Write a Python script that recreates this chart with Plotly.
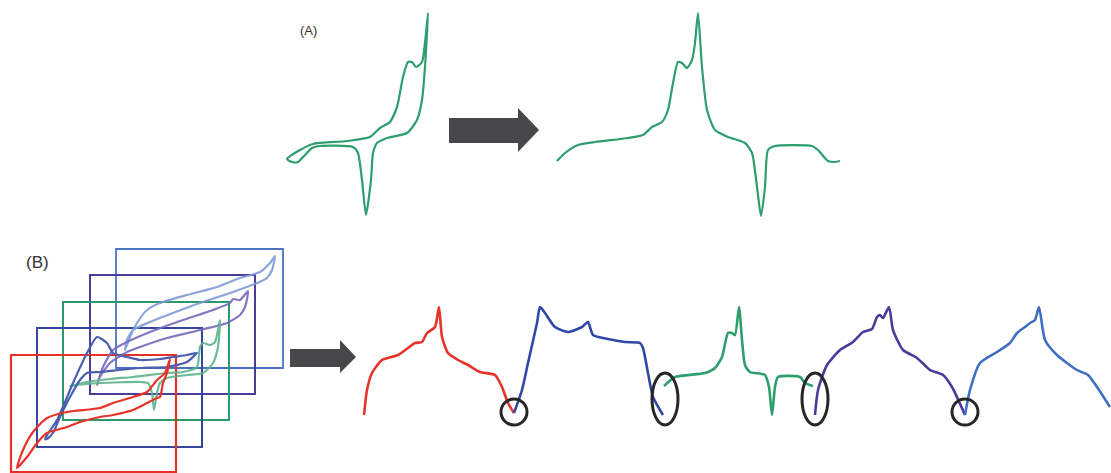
import plotly.graph_objects as go

W, H = 1111, 473

# ---------------- Panel A : cyclic voltammogram (loop) ----------------
a_cv_x = [287, 300, 313, 347, 370, 380, 390, 397, 403, 408, 412, 416, 422, 425, 428,
          425, 422, 417, 407, 387, 377, 373, 371, 366, 362, 358, 353, 320, 312, 305, 298, 292, 287]
a_cv_y = [159, 150, 144, 141, 137, 128, 122, 107, 77, 62, 62, 67, 62, 43, 13,
          67, 100, 120, 133, 138, 143, 153, 180, 215, 180, 153, 147, 146, 148, 155, 162, 162, 159]

# Panel A : unfolded trace
a_un_x = [557, 565, 578, 595, 628, 643, 652, 662, 668, 673, 678, 682, 687, 692, 695, 698,
          702, 707, 715, 728, 745, 752, 757, 761, 765, 768, 775, 812, 818, 828, 834, 840]
a_un_y = [161, 153, 145, 142, 138, 135, 127, 122, 110, 83, 62, 63, 68, 60, 43, 13,
          67, 110, 130, 137, 143, 153, 187, 216, 187, 150, 146, 146, 150, 161, 162, 161]

# ---------------- Panel B : stacked CVs ----------------
b_red_x = [17, 23, 33, 47, 67, 100, 113, 133, 147, 157, 165, 170,
           167, 163, 160, 157, 147, 133, 113, 100, 80, 67, 47, 37, 27, 17]
b_red_y = [468, 450, 432, 418, 412, 408, 403, 397, 392, 380, 373, 359,
           373, 383, 397, 398, 403, 410, 415, 417, 422, 427, 433, 443, 457, 468]

b_blue_x = [45, 57, 73, 87, 97, 107, 113, 127, 140, 160, 173, 187, 197,
            195, 187, 167, 140, 100, 87, 80, 70, 60, 53, 47, 45]
b_blue_y = [439, 420, 383, 353, 337, 343, 353, 357, 360, 359, 357, 355, 353,
            355, 362, 367, 368, 372, 373, 380, 397, 417, 433, 439, 439]

b_green_x = [70, 87, 110, 133, 167, 183, 197, 200, 203, 210, 215, 220,
             218, 213, 203, 187, 167, 160, 157, 154, 152, 148, 140, 100, 77, 70]
b_green_y = [386, 382, 379, 377, 373, 372, 367, 347, 343, 345, 342, 320,
             347, 363, 373, 375, 378, 383, 393, 410, 393, 383, 382, 383, 385, 386]

b_purple_x = [97, 103, 113, 127, 150, 183, 213, 230, 233, 240, 248,
              245, 240, 227, 200, 167, 140, 127, 110, 100, 97]
b_purple_y = [385, 367, 350, 342, 332, 320, 310, 303, 299, 300, 291,
              307, 315, 323, 330, 338, 347, 352, 363, 377, 385]

b_lblue_x = [125, 130, 137, 147, 160, 187, 217, 240, 260, 270, 275,
             272, 267, 257, 233, 200, 173, 150, 133, 127, 125]
b_lblue_y = [350, 337, 323, 310, 303, 295, 287, 278, 272, 263, 256,
             270, 278, 283, 292, 303, 313, 322, 330, 340, 350]

# Panel B : unfolded segments
u_red_x = [364, 367, 372, 382, 398, 408, 415, 422, 427, 435, 439, 442, 448, 458, 468, 480, 495, 502, 508, 514]
u_red_y = [415, 390, 373, 360, 355, 348, 343, 342, 333, 327, 307, 337, 353, 360, 365, 372, 375, 387, 403, 413]

u_blue_x = [514, 522, 528, 537, 540, 545, 555, 568, 582, 588, 593, 608, 625, 640, 643, 648, 653, 663]
u_blue_y = [413, 390, 363, 323, 307, 313, 327, 332, 327, 322, 335, 339, 342, 343, 348, 373, 397, 415]

u_green_x = [664, 675, 705, 715, 722, 728, 732, 735, 739, 742, 745, 750, 765, 769, 772, 775, 778, 800, 805, 813]
u_green_y = [386, 377, 373, 368, 357, 333, 333, 335, 307, 340, 365, 372, 375, 387, 415, 387, 377, 377, 383, 386]

u_purple_x = [815, 818, 827, 840, 853, 863, 872, 877, 880, 883, 889, 893, 903, 917, 930, 943, 952, 965]
u_purple_y = [415, 390, 365, 350, 342, 332, 329, 317, 315, 318, 307, 330, 350, 358, 370, 375, 387, 415]

u_lblue_x = [965, 970, 980, 997, 1010, 1017, 1025, 1030, 1035, 1039, 1045, 1057, 1077, 1088, 1097, 1110]
u_lblue_y = [415, 390, 363, 352, 343, 333, 327, 323, 320, 307, 340, 355, 370, 375, 387, 407]

# Frames of the stacked CVs (left, top, right, bottom), back to front
frame_l = [116, 90, 63, 37, 11]
frame_t = [249, 275, 302, 328, 355]
frame_r = [283, 255, 229, 202, 176]
frame_b = [368, 394, 420, 447, 472]
frame_c = ["#4a73c2", "#4a3c99", "#2a9a6a", "#3347a0", "#e8302a"]
frame_w = [1.8, 2.0, 2.0, 2.0, 2.2]

# Highlight circles (cx, cy, rx, ry)
circ_cx = [514, 665, 815, 965]
circ_cy = [412, 399, 399, 412]
circ_rx = [13, 13, 13, 13]
circ_ry = [13, 26, 26, 13]

# Arrows (polygons)
arrA_x = [449, 518, 518, 539, 518, 518, 449, 449]
arrA_y = [118, 118, 108, 130, 152, 143, 143, 118]
arrB_x = [290, 340, 340, 356, 340, 340, 290, 290]
arrB_y = [349, 349, 340, 357, 373, 367, 367, 349]

GREEN = "#2e9e6e"
RED = "#e8332b"
BLUE = "#2f48a6"
PURPLE = "#4b3a9c"
LBLUE = "#3f6ec2"
ARROW = "#48484b"

fig = go.Figure()

def line(x, y, color, width=2.2, opacity=1.0):
    fig.add_trace(go.Scatter(x=x, y=y, mode="lines", opacity=opacity,
                             line=dict(color=color, width=width, shape="spline", smoothing=0.6),
                             hoverinfo="skip", showlegend=False))

# Frames
for l, t, r, b, c, w in zip(frame_l, frame_t, frame_r, frame_b, frame_c, frame_w):
    fig.add_shape(type="rect", x0=l, x1=r, y0=t, y1=b, line=dict(color=c, width=w),
                  fillcolor="rgba(0,0,0,0)", layer="below")

# Panel A
line(a_cv_x, a_cv_y, GREEN, 2.2)
line(a_un_x, a_un_y, GREEN, 2.2)

# Panel B stacked CVs
line(b_lblue_x, b_lblue_y, "#7f9bd6", 2.2, 0.9)
line(b_purple_x, b_purple_y, "#7a69bd", 2.2, 0.9)
line(b_green_x, b_green_y, "#5cb48c", 2.2, 0.9)
line(b_blue_x, b_blue_y, "#4a5fb0", 2.2)
line(b_red_x, b_red_y, RED, 2.2)

# Panel B unfolded
line(u_red_x, u_red_y, RED, 2.6)
line(u_blue_x, u_blue_y, BLUE, 2.6)
line(u_green_x, u_green_y, GREEN, 2.6)
line(u_purple_x, u_purple_y, PURPLE, 2.6)
line(u_lblue_x, u_lblue_y, LBLUE, 2.6)

# Arrows
for ax_, ay_ in ((arrA_x, arrA_y), (arrB_x, arrB_y)):
    fig.add_trace(go.Scatter(x=ax_, y=ay_, mode="lines", fill="toself", fillcolor=ARROW,
                             line=dict(color=ARROW, width=0), hoverinfo="skip", showlegend=False))

# Circles
for cx, cy, rx, ry in zip(circ_cx, circ_cy, circ_rx, circ_ry):
    fig.add_shape(type="circle", x0=cx - rx, x1=cx + rx, y0=cy - ry, y1=cy + ry,
                  line=dict(color="#262626", width=3))

# Labels
fig.add_annotation(x=308, y=30, text="(A)", showarrow=False,
                   font=dict(family="Liberation Sans, Arial, sans-serif", size=13, color="#333333"))
fig.add_annotation(x=37, y=262, text="(B)", showarrow=False,
                   font=dict(family="Liberation Sans, Arial, sans-serif", size=17, color="#333333"))

fig.update_layout(
    width=W, height=H, margin=dict(l=0, r=0, t=0, b=0),
    paper_bgcolor="white", plot_bgcolor="white",
    xaxis=dict(range=[0, W], visible=False, fixedrange=True),
    yaxis=dict(range=[H, 0], visible=False, fixedrange=True),
)

fig.write_html("out.html")
